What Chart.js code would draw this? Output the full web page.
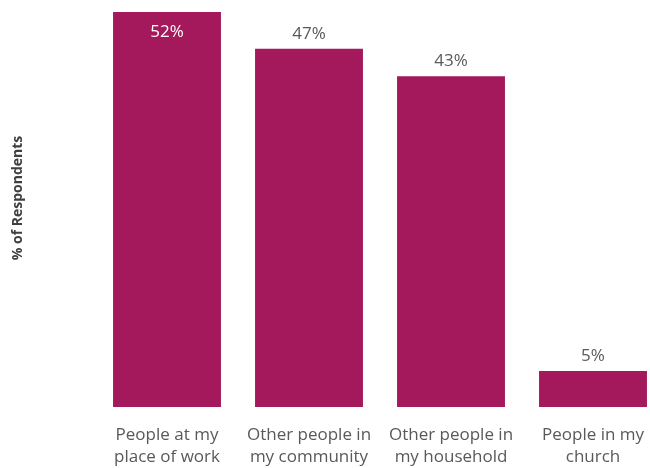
<!DOCTYPE html>
<html>
<head>
<meta charset="utf-8">
<script src="https://cdn.jsdelivr.net/npm/chart.js@4/dist/chart.umd.min.js"></script>
<style>
html,body{margin:0;padding:0;overflow:hidden;background:#fff;}
#wrap{width:664px;height:468px;position:relative;}
</style>
</head>
<body>
<div id="wrap"><canvas id="c"></canvas></div>
<script>
const categories = [
  ["People at my", "place of work"],
  ["Other people in", "my community"],
  ["Other people in", "my household"],
  ["People in my", "church"]
];
const values = [51.6, 46.8, 43.2, 4.7];
const yTitle = "% of Respondents";

const FONT = "'Open Sans', 'Noto Sans', sans-serif";
const BAR = "#A3195B";

const labelPlugin = {
  id: "valueLabels",
  afterDatasetsDraw(chart) {
    const ctx = chart.ctx;
    const meta = chart.getDatasetMeta(0);
    ctx.save();
    ctx.font = "17px " + FONT;
    ctx.textAlign = "center";
    ctx.textBaseline = "middle";
    meta.data.forEach((bar, i) => {
      const txt = Math.round(values[i]) + "%";
      if (bar.y - chart.chartArea.top < 30) {
        ctx.fillStyle = "#ffffff";
        ctx.fillText(txt, bar.x, bar.y + 20);
      } else {
        ctx.fillStyle = "#595959";
        ctx.fillText(txt, bar.x, bar.y - 15);
      }
    });
    ctx.restore();
  },
  afterDraw(chart) {
    const ctx = chart.ctx;
    ctx.save();
    ctx.translate(18, 198);
    ctx.rotate(-Math.PI / 2);
    ctx.font = "bold 14px " + FONT;
    ctx.fillStyle = "#404040";
    ctx.textAlign = "center";
    ctx.textBaseline = "middle";
    ctx.fillText(yTitle, 0, 0);
    ctx.restore();
  }
};

new Chart(document.getElementById("c"), {
  type: "bar",
  data: {
    labels: categories,
    datasets: [{
      data: values,
      backgroundColor: BAR,
      borderWidth: 0,
      barPercentage: 0.76,
      categoryPercentage: 1.0
    }]
  },
  options: {
    responsive: true,
    maintainAspectRatio: false,
    animation: false,
    layout: { padding: { top: 12, right: 0, bottom: 0, left: 0 } },
    plugins: { legend: { display: false }, tooltip: { enabled: false } },
    scales: {
      x: {
        offset: true,
        grid: { display: false, drawTicks: false },
        border: { display: false },
        afterFit(scale) { scale.height = 61; },
        ticks: {
          color: "#595959",
          font: { family: FONT, size: 17, lineHeight: 1.3 },
          padding: 17,
          maxRotation: 0,
          autoSkip: false
        }
      },
      y: {
        min: 0,
        max: 51.6,
        grid: { display: false, drawTicks: false },
        border: { display: false },
        ticks: { display: false },
        afterFit(scale) { scale.width = 96; },
        title: { display: false }
      }
    }
  },
  plugins: [labelPlugin]
});
</script>
</body>
</html>
